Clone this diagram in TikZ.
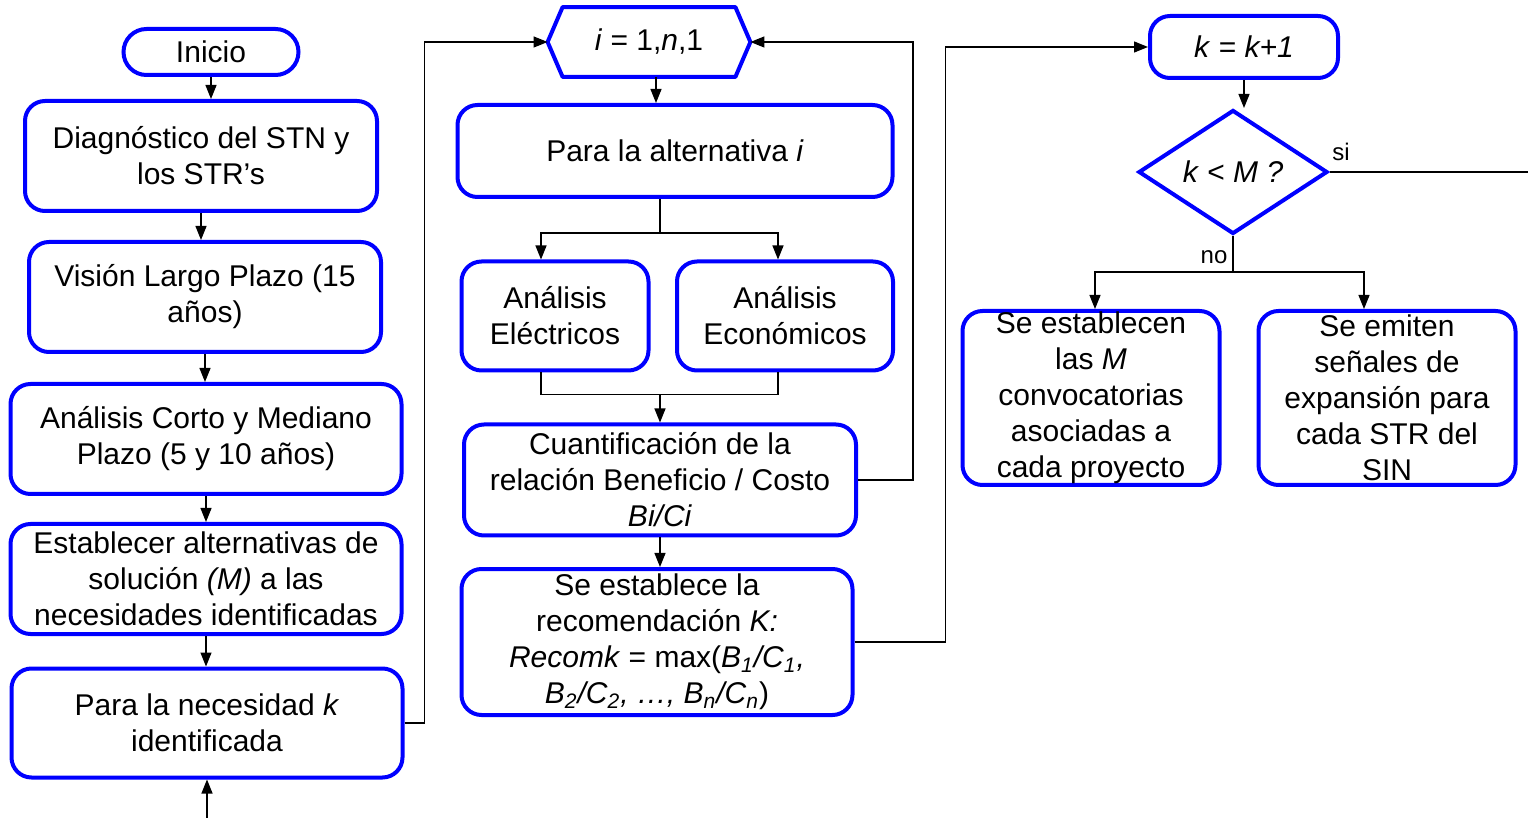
\documentclass[tikz,border=0pt]{standalone}
\usepackage{fontspec}
\setmainfont{Liberation Sans}
\usepackage{tikz}
\usetikzlibrary{positioning,shapes.geometric,arrows.meta}

\begin{document}
\begin{tikzpicture}[x=0.5pt,y=-0.5pt,
>={Triangle[length=7pt,width=5.5pt]},
every node/.style={align=center,inner sep=0pt,font=\fontsize{15}{18}\selectfont},
box/.style={draw=blue,line width=2pt,rounded corners=10pt},
pill/.style={draw=blue,line width=2pt,rounded corners=11.5pt,minimum width=87.5pt,minimum height=23pt},
decision/.style={diamond,draw=blue,line width=2pt,minimum width=94.5pt,minimum height=62pt},
hexa/.style={draw=blue,line width=2pt,line join=round},
link/.style={line width=0.6pt},
tag/.style={font=\fontsize{12}{14}\selectfont}]

\useasboundingbox (0,0) rectangle (1528,818);

% left column
\node[pill] (ini) at (211,52) {Inicio};
\node[box,minimum width=176pt,minimum height=55pt] (diag) at (201,156) {Diagnóstico del STN y\\los STR’s};
\node[box,minimum width=176pt,minimum height=55pt] (vis) at (205,297) {Visión Largo Plazo (15\\años)};
\node[box,minimum width=195.5pt,minimum height=55pt] (corto) at (206,439) {Análisis Corto y Mediano\\Plazo (5 y 10 años)};
\node[box,minimum width=195.5pt,minimum height=55pt] (alts) at (206,579) {Establecer alternativas de\\solución \textit{(M)} a las\\necesidades identificadas};
\node[box,minimum width=195.5pt,minimum height=54.5pt] (nec) at (207,723) {Para la necesidad \textit{k}\\identificada};
\coordinate (entry) at (207,818);

% middle column
\node[minimum width=101pt,minimum height=34.5pt] (loop) at (649,42) {\textit{i} = 1,\textit{n},1};
\draw[hexa] (loop.west) -- ([xshift=7.5pt]loop.north west) -- ([xshift=-7.5pt]loop.north east)
  -- (loop.east) -- ([xshift=-7.5pt]loop.south east) -- ([xshift=7.5pt]loop.south west) -- cycle;
\node[box,minimum width=217.5pt,minimum height=46pt] (alt) at (675,151) {Para la alternativa \textit{i}};
\node[box,minimum width=93.5pt,minimum height=54.5pt] (elec) at (555,316) {Análisis\\Eléctricos};
\node[box,minimum width=108pt,minimum height=54.5pt] (econ) at (785,316) {Análisis\\Económicos};
\node[box,minimum width=196pt,minimum height=55.5pt] (cuant) at (660,480) {Cuantificación de la\\relación Beneficio / Costo\\\textit{Bi/Ci}};
\node[box,minimum width=195.5pt,minimum height=73pt] (reco) at (657,642) {Se establece la\\recomendación \textit{K:}\\\textit{Recomk} = max(\textit{B\textsubscript{1}/C\textsubscript{1},}\\\textit{B\textsubscript{2}/C\textsubscript{2}, …, B\textsubscript{n}/C\textsubscript{n}})};

% right column
\node[box,minimum width=94pt,minimum height=31pt] (kinc) at (1244,47) {\textit{k} = \textit{k+1}};
\node[decision] (dec) at (1233,172) {\textit{k} < \textit{M ?}};
\node[box,minimum width=128.5pt,minimum height=87pt] (conv) at (1091,398) {Se establecen\\las \textit{M}\\convocatorias\\asociadas a\\cada proyecto};
\node[box,minimum width=128.5pt,minimum height=87pt] (senal) at (1387,398) {Se emiten\\señales de\\expansión para\\cada STR del\\SIN};
\coordinate (siend) at (1528,172);

% connectors
\draw[link,->] (ini.south) -- (ini.south |- diag.north);
\draw[link,->] (diag.south) -- (diag.south |- vis.north);
\draw[link,->] (vis.south) -- (vis.south |- corto.north);
\draw[link,->] (corto.south) -- (corto.south |- alts.north);
\draw[link,->] (alts.south) -- (alts.south |- nec.north);
\draw[link,->] (entry) -- (nec.south);
\draw[link,->] (nec.east) -- ++(20,0) |- (loop.west);

\draw[link,->] ([xshift=3.5pt]loop.south) -- ([xshift=3.5pt]loop.south |- alt.north);
\draw[link] ([xshift=-7.5pt]alt.south) -- ++(0,34) coordinate (split);
\draw[link,->] (split) -| ([xshift=-7pt]elec.north);
\draw[link,->] (split) -| ([xshift=-3.5pt]econ.north);
\draw[link] ([xshift=-7pt]elec.south) -- ++(0,22) coordinate (join) -| ([xshift=-3.5pt]econ.south);
\draw[link,->] (join -| cuant.north) -- (cuant.north);
\draw[link,->] (cuant.east) -- ++(55,0) |- (loop.east);
\draw[link,->] (cuant.south) -- (cuant.south |- reco.north);
\draw[link,->] (reco.east) -- ++(91,0) |- (kinc.west);

\draw[link,->] (kinc.south) -- (kinc.south |- dec.north);
\draw[link] (dec.east) -- (siend);
\node[tag] (si) at (1341,152) {si};
\draw[link] (dec.south) -- ++(0,36) coordinate (nosplit);
\node[tag] (no) at (1214,257) {no};
\draw[link,->] (nosplit) -| ([xshift=2pt]conv.north);
\draw[link,->] (nosplit) -| ([xshift=-11.5pt]senal.north);

\end{tikzpicture}
\end{document}
